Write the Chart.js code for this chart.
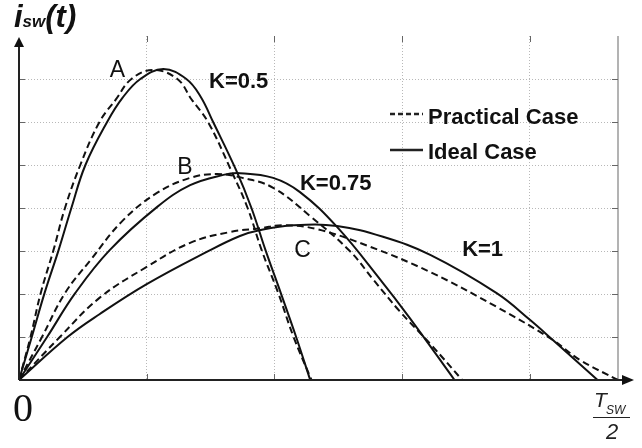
<!DOCTYPE html>
<html>
<head>
<meta charset="utf-8">
<script src="https://cdn.jsdelivr.net/npm/chart.js@4"></script>
<style>
  html, body { margin: 0; padding: 0; background: #fff; }
  canvas { display: block; }
</style>
</head>
<body>
<canvas id="iswChart" width="642" height="448"></canvas>
<script>
// values in grid divisions (x: one dotted column, y: one dotted row)
const idealK05X = [0, 0.10, 0.20, 0.31, 0.41, 0.52, 0.69, 0.81, 0.95, 1.13, 1.31, 1.42, 1.52, 1.70, 1.82, 1.93, 2.05, 2.17, 2.28];
const idealK05Y = [0, 1.00, 2.02, 3.02, 4.00, 5.00, 6.00, 6.56, 7.00, 7.23, 7.00, 6.60, 6.00, 4.88, 4.00, 3.02, 2.02, 1.00, 0];
const practicalK05X = [0, 0.09, 0.17, 0.27, 0.36, 0.48, 0.63, 0.76, 0.88, 1.05, 1.24, 1.35, 1.48, 1.66, 1.79, 1.90, 2.03, 2.15, 2.29];
const practicalK05Y = [0, 1.00, 2.02, 3.02, 4.00, 5.00, 6.00, 6.53, 7.00, 7.21, 7.00, 6.53, 6.00, 4.88, 4.00, 3.02, 2.02, 1.00, 0];

const idealK075X = [0, 0.22, 0.44, 0.71, 1.08, 1.34, 1.60, 1.73, 1.99, 2.20, 2.49, 2.83, 3.06, 3.41];
const idealK075Y = [0, 1.00, 2.02, 3.02, 4.02, 4.53, 4.77, 4.81, 4.70, 4.37, 3.56, 2.33, 1.44, 0];
const practicalK075X = [0, 0.18, 0.36, 0.56, 0.81, 1.08, 1.34, 1.55, 1.75, 1.99, 2.28, 2.59, 2.77, 2.98, 3.22, 3.47];
const practicalK075Y = [0, 1.00, 2.02, 2.79, 3.70, 4.35, 4.70, 4.79, 4.70, 4.47, 3.81, 3.00, 2.35, 1.60, 0.84, 0];

const idealK1X = [0, 0.38, 0.63, 1.00, 1.47, 1.73, 1.89, 2.15, 2.49, 2.85, 3.22, 3.74, 4.00, 4.18, 4.53];
const idealK1Y = [0, 1.00, 1.53, 2.23, 2.98, 3.35, 3.49, 3.60, 3.58, 3.33, 2.91, 2.02, 1.40, 0.93, 0];
const practicalK1X = [0, 0.32, 0.63, 1.00, 1.34, 1.65, 1.89, 2.07, 2.33, 2.73, 3.22, 3.74, 4.18, 4.39, 4.69];
const practicalK1Y = [0, 1.00, 1.91, 2.63, 3.19, 3.44, 3.53, 3.60, 3.51, 3.12, 2.51, 1.70, 0.93, 0.47, 0];

const xMax = 4.69;
const yMax = 8;

// curve labels, anchored at (centre x, baseline y) in data units
const curveLabels = ["A", "K=0.5", "B", "K=0.75", "C", "K=1"];
const curveLabelX = [0.77, 1.72, 1.30, 2.48, 2.22, 3.63];
const curveLabelY = [7.05, 6.79, 4.79, 4.42, 2.86, 2.88];
const legendLabels = ["Practical Case", "Ideal Case"];

const toPoints = (xs, ys) => xs.map((x, i) => ({x: x, y: ys[i]}));

function curve(xs, ys, dashed) {
    return {
        data: toPoints(xs, ys),
        borderColor: "#111",
        borderWidth: 2,
        borderDash: dashed ? [7, 4] : [],
        pointRadius: 0,
        fill: false,
        tension: 0.4
    };
}

const decor = {
    id: "decor",
    beforeDatasetsDraw(chart) {
        const {ctx, chartArea: a, scales: {x, y}} = chart;
        ctx.save();
        // right frame
        ctx.strokeStyle = "#9a9a9a";
        ctx.lineWidth = 1.5;
        const xr = x.getPixelForValue(xMax);
        ctx.beginPath();
        ctx.moveTo(xr, a.top);
        ctx.lineTo(xr, a.bottom);
        ctx.stroke();
        // small inner ticks
        ctx.strokeStyle = "#666";
        ctx.lineWidth = 1;
        ctx.beginPath();
        for (let v = 1; v < xMax; v++) {
            const px = Math.round(x.getPixelForValue(v)) + 0.5;
            ctx.moveTo(px, a.bottom); ctx.lineTo(px, a.bottom - 6);
            ctx.moveTo(px, a.top); ctx.lineTo(px, a.top + 6);
        }
        for (let v = 1; v < yMax; v++) {
            const py = Math.round(y.getPixelForValue(v)) + 0.5;
            ctx.moveTo(a.left, py); ctx.lineTo(a.left + 6, py);
            ctx.moveTo(xr, py); ctx.lineTo(xr - 6, py);
        }
        ctx.stroke();
        ctx.restore();
    },
    afterDatasetsDraw(chart) {
        const {ctx, chartArea: a, scales: {x, y}} = chart;
        ctx.save();
        // axes with arrows
        ctx.strokeStyle = "#222";
        ctx.fillStyle = "#111";
        ctx.lineWidth = 2;
        ctx.beginPath();
        ctx.moveTo(a.left, a.bottom); ctx.lineTo(a.left, a.top + 8);
        ctx.moveTo(a.left, a.bottom); ctx.lineTo(a.right + 5, a.bottom);
        ctx.stroke();
        ctx.beginPath();
        ctx.moveTo(a.left, a.top + 1); ctx.lineTo(a.left - 5, a.top + 11); ctx.lineTo(a.left + 5, a.top + 11);
        ctx.closePath(); ctx.fill();
        ctx.beginPath();
        ctx.moveTo(a.right + 16, a.bottom); ctx.lineTo(a.right + 4, a.bottom - 5); ctx.lineTo(a.right + 4, a.bottom + 5);
        ctx.closePath(); ctx.fill();

        // curve labels
        ctx.textAlign = "center";
        ctx.textBaseline = "alphabetic";
        curveLabels.forEach((t, i) => {
            ctx.font = t.startsWith("K") ? "bold 22px 'Liberation Sans'" : "23px 'Liberation Sans'";
            ctx.fillText(t, x.getPixelForValue(curveLabelX[i]), y.getPixelForValue(curveLabelY[i]));
        });

        // legend
        ctx.textAlign = "left";
        ctx.font = "bold 22px 'Liberation Sans'";
        ctx.lineWidth = 2.5;
        ctx.setLineDash([5, 3]);
        ctx.beginPath(); ctx.moveTo(390, 114); ctx.lineTo(423, 114); ctx.stroke();
        ctx.setLineDash([]);
        ctx.beginPath(); ctx.moveTo(390, 150); ctx.lineTo(423, 150); ctx.stroke();
        ctx.fillText(legendLabels[0], 428, 124);
        ctx.fillText(legendLabels[1], 428, 159);

        // y title i_sw(t)
        ctx.font = "bold italic 31px 'Liberation Sans'";
        let tx = 14;
        ctx.fillText("i", tx, 27);
        tx += ctx.measureText("i").width;
        ctx.font = "bold italic 17px 'Liberation Sans'";
        ctx.fillText("sw", tx, 27);
        tx += ctx.measureText("sw").width;
        ctx.font = "bold italic 31px 'Liberation Sans'";
        ctx.fillText("(t)", tx, 27);

        // origin
        ctx.font = "40px 'Liberation Serif'";
        ctx.textAlign = "center";
        ctx.fillText("0", 23, 421);

        // T_SW / 2
        ctx.fillStyle = "#222";
        ctx.textAlign = "left";
        ctx.font = "italic 21px 'Liberation Sans'";
        ctx.fillText("T", 594, 407);
        ctx.font = "italic 12px 'Liberation Sans'";
        ctx.fillText("SW", 606, 414);
        ctx.strokeStyle = "#222";
        ctx.lineWidth = 1;
        ctx.beginPath(); ctx.moveTo(593, 417.5); ctx.lineTo(630, 417.5); ctx.stroke();
        ctx.textAlign = "center";
        ctx.font = "italic 22px 'Liberation Sans'";
        ctx.fillText("2", 612, 439);
        ctx.restore();
    }
};

const gridColor = (lo, hi) => (c) => (c.tick && c.tick.value > lo && c.tick.value < hi) ? "#b8b8b8" : "rgba(0,0,0,0)";

new Chart(document.getElementById("iswChart").getContext("2d"), {
    type: "line",
    data: {
        datasets: [
            curve(practicalK05X, practicalK05Y, true),
            curve(idealK05X, idealK05Y, false),
            curve(practicalK075X, practicalK075Y, true),
            curve(idealK075X, idealK075Y, false),
            curve(practicalK1X, practicalK1Y, true),
            curve(idealK1X, idealK1Y, false)
        ]
    },
    options: {
        responsive: false,
        animation: false,
        layout: {padding: {left: 19, right: 24, top: 36, bottom: 68}},
        plugins: {legend: {display: false}, tooltip: {enabled: false}},
        scales: {
            x: {
                type: "linear", min: 0, max: xMax,
                ticks: {display: false, stepSize: 1},
                grid: {drawTicks: false, color: gridColor(0.5, xMax - 0.3), lineWidth: 1},
                border: {display: false, dash: [1, 2]}
            },
            y: {
                type: "linear", min: 0, max: yMax,
                ticks: {display: false, stepSize: 1},
                grid: {drawTicks: false, color: gridColor(0.5, yMax - 0.5), lineWidth: 1},
                border: {display: false, dash: [1, 2]}
            }
        }
    },
    plugins: [decor]
});
</script>
</body>
</html>
